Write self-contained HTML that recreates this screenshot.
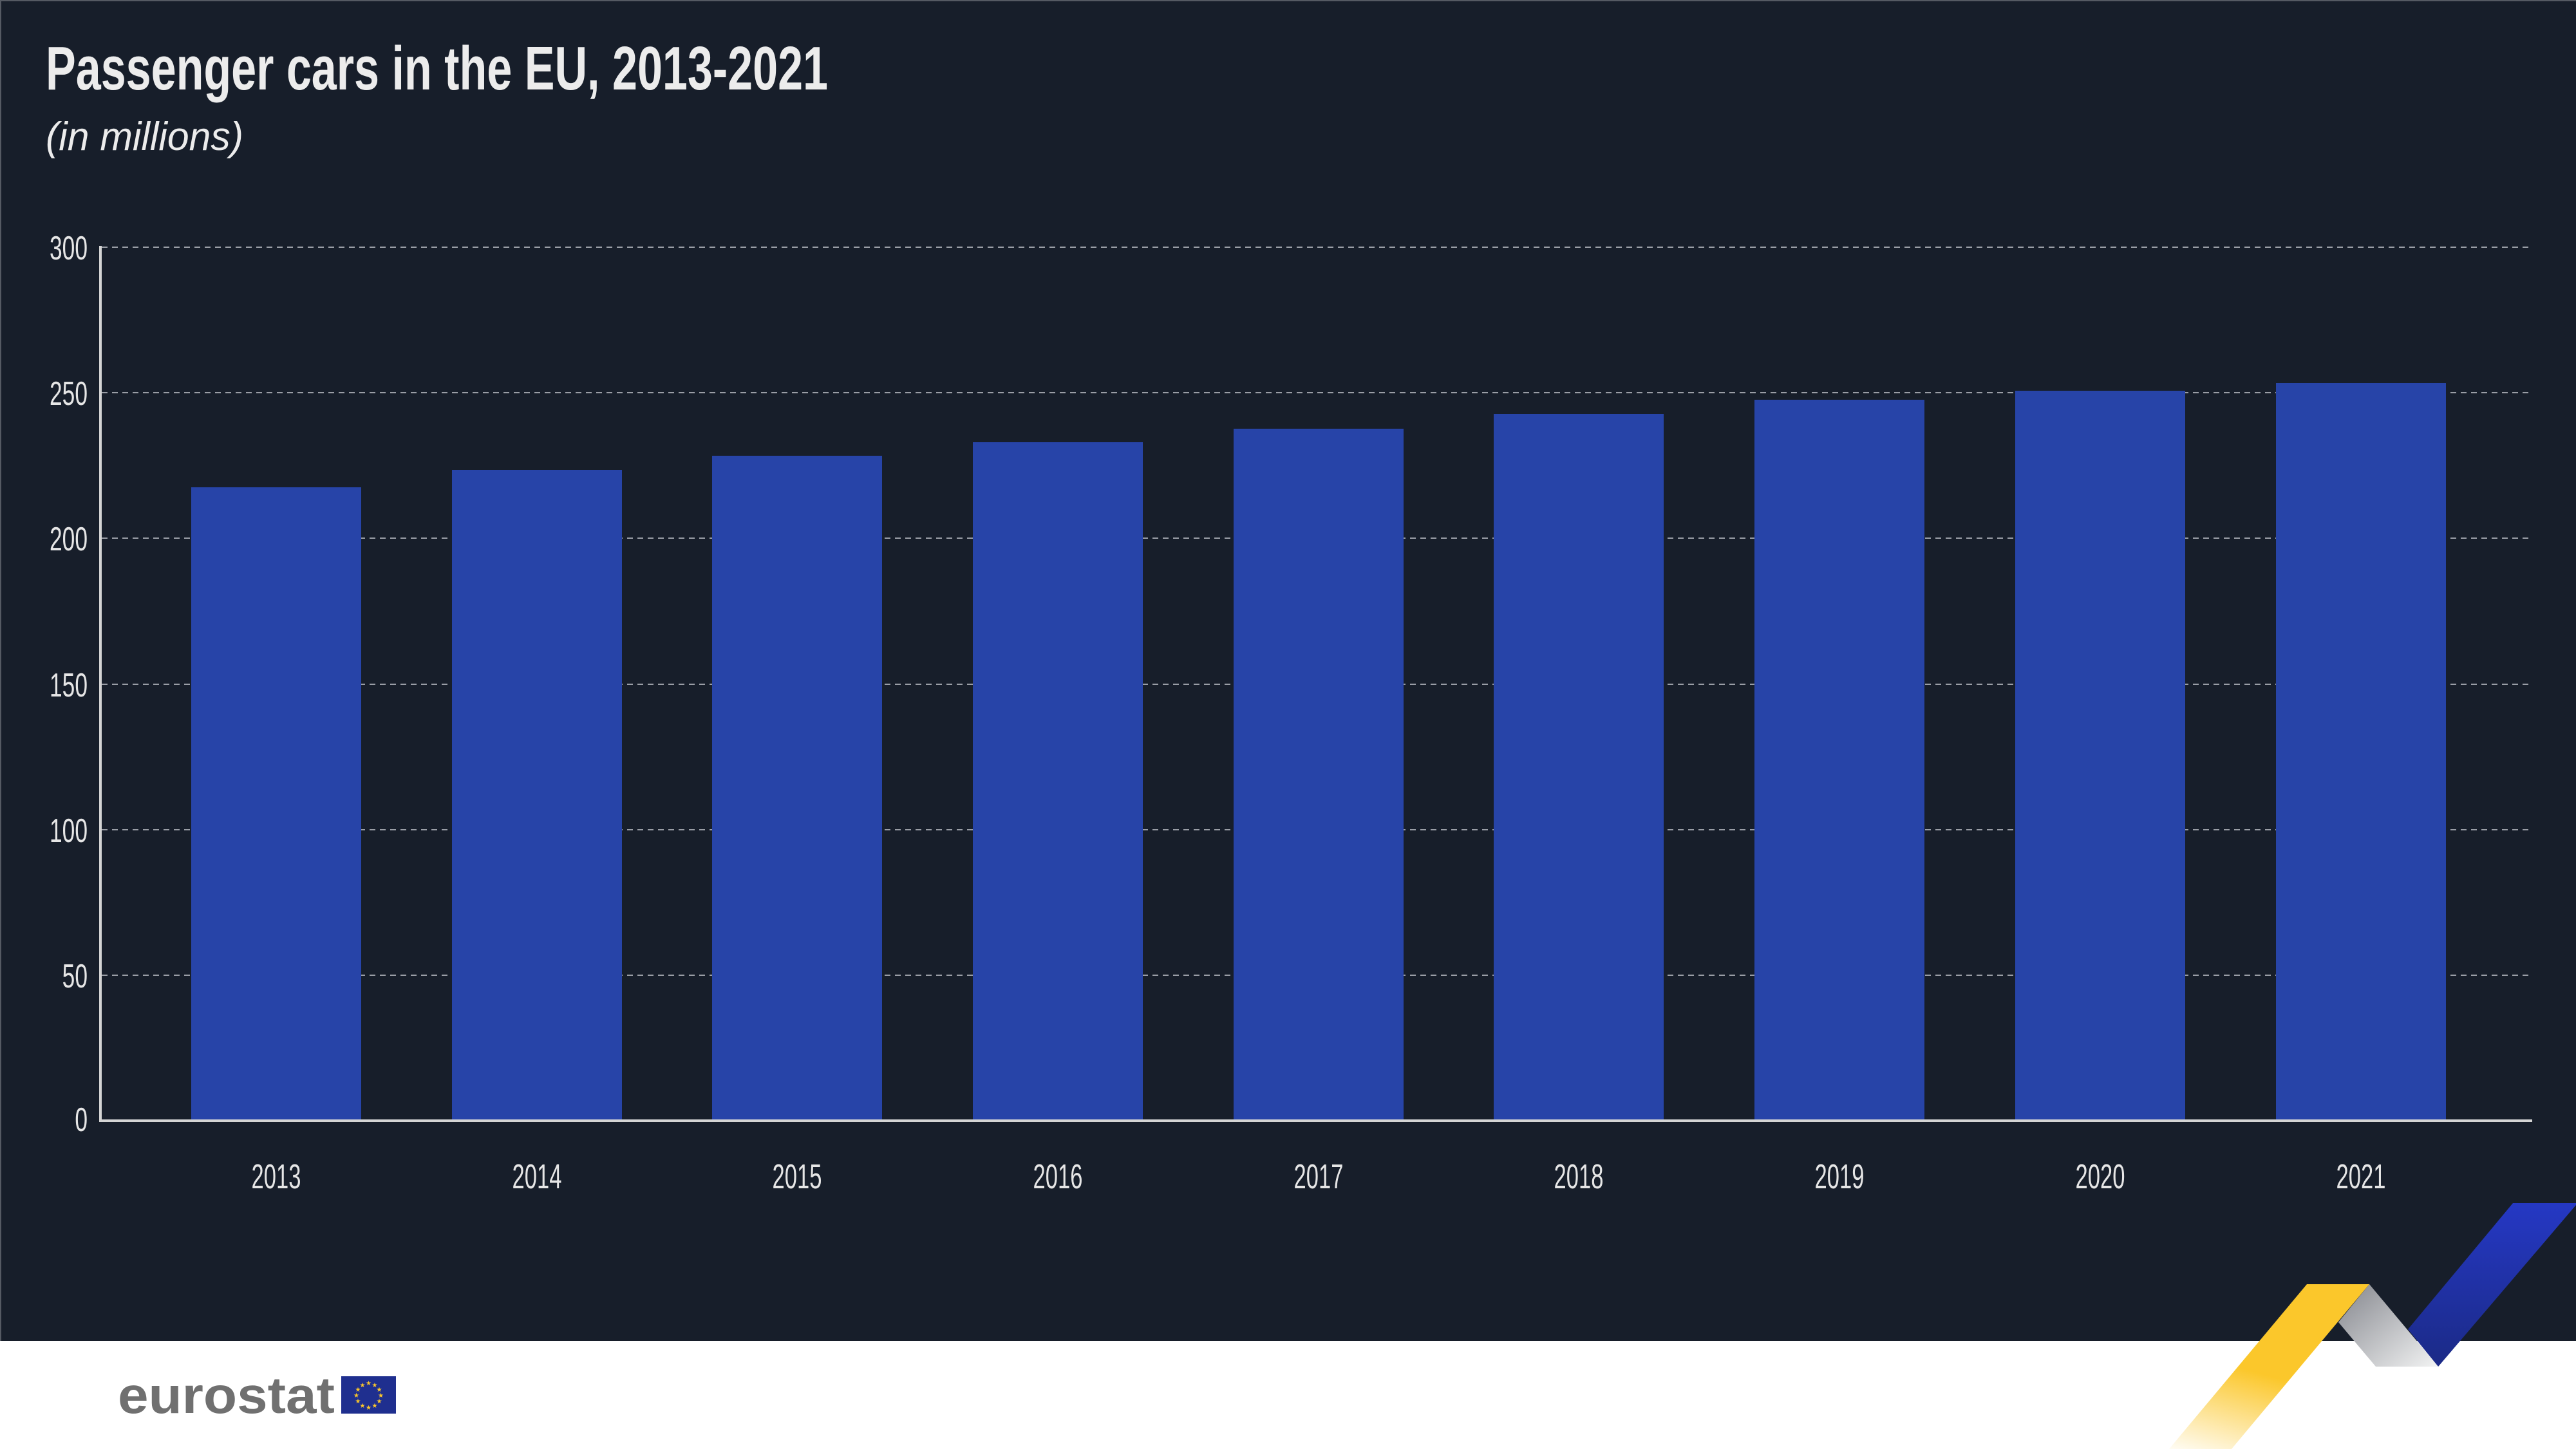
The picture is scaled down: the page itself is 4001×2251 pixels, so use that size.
<!DOCTYPE html>
<html><head><meta charset="utf-8"><style>
html,body{margin:0;padding:0;background:#fff;}
svg{display:block;}
</style></head><body>
<svg width="4001" height="2251" viewBox="0 0 4001 2251" xmlns="http://www.w3.org/2000/svg">
<defs>
<linearGradient id="yg" x1="0" y1="1" x2="0.35" y2="0"><stop offset="0" stop-color="#fbc72b" stop-opacity="0.05"/><stop offset="0.55" stop-color="#fbc72b"/><stop offset="1" stop-color="#fbc72b"/></linearGradient>
<linearGradient id="gg" x1="0" y1="0" x2="1" y2="1"><stop offset="0" stop-color="#84868d"/><stop offset="1" stop-color="#f2f3f3"/></linearGradient>
<linearGradient id="bg" x1="0" y1="0" x2="0" y2="1"><stop offset="0" stop-color="#2538c4"/><stop offset="1" stop-color="#1b2a86"/></linearGradient>
</defs>
<rect x="0" y="0" width="4001" height="2083" fill="#171e2a"/>
<rect x="0" y="0" width="4001" height="2" fill="#555a63"/>
<rect x="0" y="0" width="2" height="2083" fill="#555a63"/>
<g font-family="Liberation Sans, sans-serif" fill="#ececec">
<text x="71" y="139" font-size="96" font-weight="bold" textLength="1215" lengthAdjust="spacingAndGlyphs">Passenger cars in the EU, 2013-2021</text>
<text x="71" y="233" font-size="62" font-style="italic" textLength="307" lengthAdjust="spacingAndGlyphs">(in millions)</text>
</g>
<g stroke="#9a9ea6" stroke-width="2" stroke-dasharray="9,7">
<line x1="158" y1="384" x2="3933" y2="384"/>
<line x1="158" y1="610" x2="3933" y2="610"/>
<line x1="158" y1="836" x2="3933" y2="836"/>
<line x1="158" y1="1063" x2="3933" y2="1063"/>
<line x1="158" y1="1289" x2="3933" y2="1289"/>
<line x1="158" y1="1515" x2="3933" y2="1515"/>
</g>
<g fill="#2744a8">
<rect x="297" y="757" width="264" height="984"/>
<rect x="702" y="730" width="264" height="1011"/>
<rect x="1106" y="708" width="264" height="1033"/>
<rect x="1511" y="687" width="264" height="1054"/>
<rect x="1916" y="666" width="264" height="1075"/>
<rect x="2320" y="643" width="264" height="1098"/>
<rect x="2725" y="621" width="264" height="1120"/>
<rect x="3130" y="607" width="264" height="1134"/>
<rect x="3535" y="595" width="264" height="1146"/>
</g>
<line x1="156" y1="382" x2="156" y2="1743" stroke="#d4d4d4" stroke-width="4"/>
<line x1="154" y1="1741" x2="3933" y2="1741" stroke="#d4d4d4" stroke-width="4"/>
<g font-family="Liberation Sans, sans-serif" fill="#e6e6e6" font-size="52" text-anchor="end">
<text x="136" y="403" transform="translate(136,0) scale(0.68,1) translate(-136,0)">300</text>
<text x="136" y="629" transform="translate(136,0) scale(0.68,1) translate(-136,0)">250</text>
<text x="136" y="855" transform="translate(136,0) scale(0.68,1) translate(-136,0)">200</text>
<text x="136" y="1082" transform="translate(136,0) scale(0.68,1) translate(-136,0)">150</text>
<text x="136" y="1308" transform="translate(136,0) scale(0.68,1) translate(-136,0)">100</text>
<text x="136" y="1534" transform="translate(136,0) scale(0.68,1) translate(-136,0)">50</text>
<text x="136" y="1757" transform="translate(136,0) scale(0.68,1) translate(-136,0)">0</text>
</g>
<g font-family="Liberation Sans, sans-serif" fill="#e6e6e6" font-size="54" text-anchor="middle">
<text x="429" y="1846" transform="translate(429,0) scale(0.64,1) translate(-429,0)">2013</text>
<text x="834" y="1846" transform="translate(834,0) scale(0.64,1) translate(-834,0)">2014</text>
<text x="1238" y="1846" transform="translate(1238,0) scale(0.64,1) translate(-1238,0)">2015</text>
<text x="1643" y="1846" transform="translate(1643,0) scale(0.64,1) translate(-1643,0)">2016</text>
<text x="2048" y="1846" transform="translate(2048,0) scale(0.64,1) translate(-2048,0)">2017</text>
<text x="2452" y="1846" transform="translate(2452,0) scale(0.64,1) translate(-2452,0)">2018</text>
<text x="2857" y="1846" transform="translate(2857,0) scale(0.64,1) translate(-2857,0)">2019</text>
<text x="3262" y="1846" transform="translate(3262,0) scale(0.64,1) translate(-3262,0)">2020</text>
<text x="3667" y="1846" transform="translate(3667,0) scale(0.64,1) translate(-3667,0)">2021</text>
</g>
<polygon points="3903,1869 4001,1869 4001,1872 3787,2123 3740,2065" fill="url(#bg)"/>
<polygon points="3680,1995 3787,2123 3690,2123 3632,2054" fill="url(#gg)"/>
<polygon points="3583,1995 3680,1995 3466,2251 3369,2251" fill="url(#yg)"/>
<text x="183" y="2195" font-family="Liberation Sans, sans-serif" font-weight="bold" font-size="80" fill="#707070" textLength="337" lengthAdjust="spacingAndGlyphs">eurostat</text>
<rect x="530" y="2138" width="85" height="58" fill="#1f2f8f"/>
<g fill="#fbc72b" font-family="DejaVu Sans, sans-serif" font-size="10" text-anchor="middle">
<text x="572.5" y="2152">★</text><text x="582" y="2155">★</text><text x="589" y="2162">★</text>
<text x="591.5" y="2171">★</text><text x="589" y="2180">★</text><text x="582" y="2187">★</text>
<text x="572.5" y="2190">★</text><text x="563" y="2187">★</text><text x="556" y="2180">★</text>
<text x="553.5" y="2171">★</text><text x="556" y="2162">★</text><text x="563" y="2155">★</text>
</g>
</svg>
</body></html>
